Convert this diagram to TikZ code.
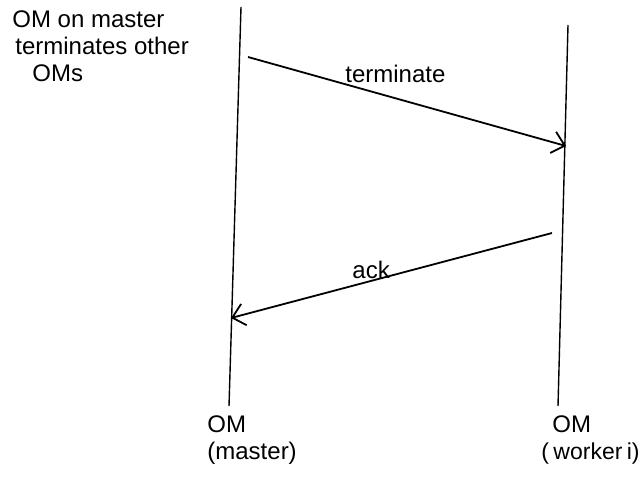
\documentclass[tikz,border=0pt]{standalone}
\usepackage{fontspec}
\setmainfont{Liberation Sans}
\usetikzlibrary{arrows.meta}

\begin{document}
\begin{tikzpicture}[
  x=0.5pt, y=-0.5pt,
  vida/.style={line width=0.7pt},
  mensaje/.style={-{Straight Barb[length=6pt,width=11pt]}, line width=0.9pt},
  texto/.style={font=\fontsize{12}{13.5}\selectfont, inner sep=0pt, align=left, anchor=base west}
]
\useasboundingbox (0,0) rectangle (640,476);
% lineas de vida
\coordinate (mt) at (241,7);
\coordinate (mb) at (229,406);
\coordinate (wt) at (568,25);
\coordinate (wb) at (558,406);
\draw[vida] (mt) -- (mb);
\draw[vida] (wt) -- (wb);
% mensajes
\coordinate (t0) at (248,57);
\coordinate (t1) at (566,146);
\coordinate (a0) at (552,233);
\coordinate (a1) at (231,318);
\draw[mensaje] (t0) -- (t1);
\draw[mensaje] (a0) -- (a1);
\node[texto] (lt) at (345,83) {terminate};
\node[texto] (la) at (352,278) {ack};
% textos (base = ultima linea)
\node[texto] (nota) at (12,82) {OM on master\\\hspace{1.5pt}terminates other\\\hspace{10pt}OMs};
\node[texto] (master) at (207,459) {OM\\(master)};
\node[texto] (worker) at (541,459) {\hspace{5.5pt}OM\\{\fontsize{11.5}{13.5}\selectfont(\hspace{2.2pt}worker\hspace{2.2pt}i)}};
\end{tikzpicture}
\end{document}
